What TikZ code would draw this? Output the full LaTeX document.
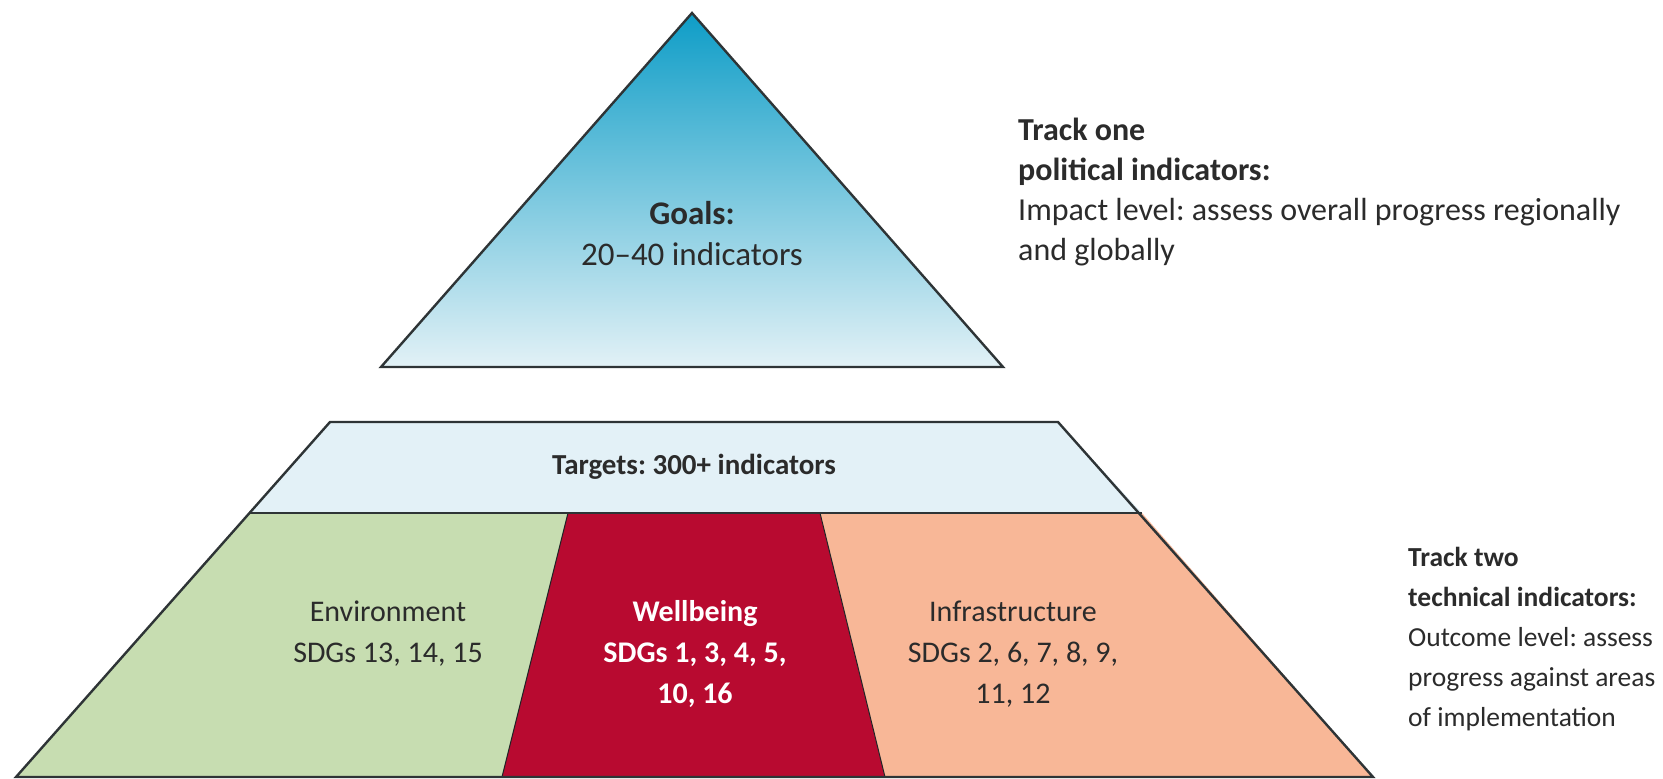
\documentclass[tikz,border=0pt]{standalone}
\usepackage{fontspec}
\setmainfont{Carlito}
\usepackage{tikz}

\definecolor{goaltop}{HTML}{0E9DC7}
\definecolor{goalbot}{HTML}{E2F1F6}
\definecolor{targetfill}{HTML}{E3F1F7}
\definecolor{envfill}{HTML}{C7DDB1}
\definecolor{wellfill}{HTML}{B80A30}
\definecolor{infrafill}{HTML}{F8B797}
\definecolor{edgegray}{HTML}{2E3436}
\definecolor{inkgray}{HTML}{2B2B2B}

\tikzset{
  outline/.style={draw=edgegray, line width=2.4pt, line join=miter},
  split/.style={draw=edgegray!70!black, line width=1pt},
  txt/.style={align=center, text=inkgray, font=\fontsize{30}{41}\selectfont, inner sep=0pt},
  side/.style={align=left, anchor=north west, text=inkgray, font=\fontsize{29}{40}\selectfont, inner sep=0pt}
}

\begin{document}
\frenchspacing
\begin{tikzpicture}[x=1pt, y=-1pt]
\useasboundingbox (0,0) rectangle (1663,779);
% goals triangle
\coordinate (apex) at (692,13);
\coordinate (gl) at (381,367);
\coordinate (gr) at (1003,367);
\shade[top color=goaltop, bottom color=goalbot] (apex) -- (gr) -- (gl) -- cycle;
\draw[outline] (apex) -- (gr) -- (gl) -- cycle;
% targets trapezoid
\coordinate (tl) at (330,422);
\coordinate (tr) at (1058,422);
\coordinate (ml) at (250,513);
\coordinate (mr) at (1142,513);
\coordinate (bl) at (16,777);
\coordinate (br) at (1373,777);
\coordinate (wtl) at (568,513);
\coordinate (wtr) at (820,513);
\coordinate (wbl) at (502,777);
\coordinate (wbr) at (885,777);
\fill[targetfill] (ml) -- (tl) -- (tr) -- (mr) -- cycle;
\fill[envfill] (ml) -- (wtl) -- (wbl) -- (bl) -- cycle;
\fill[wellfill] (wtl) -- (wtr) -- (wbr) -- (wbl) -- cycle;
\fill[infrafill] (wtr) -- (mr) -- (br) -- (wbr) -- cycle;
\draw[split] (wtl) -- (wbl);
\draw[split] (wtr) -- (wbr);
\draw[outline] (ml) -- (mr);
\draw[outline] (tl) -- (tr) -- (br) -- (bl) -- cycle;
% labels
\node[txt, font=\fontsize{33}{41}\selectfont] (goals) at (692,234) {\textbf{Goals:}\\20–40 indicators};
\node[txt, font=\fontsize{29}{41}\selectfont] (targets) at (694,467) {\textbf{Targets: 300+ indicators}};
\node[txt] (env) at (388,634) {Environment\\SDGs 13, 14, 15};
\node[txt, text=white] (well) at (695,654) {\textbf{Wellbeing}\\\textbf{SDGs 1, 3, 4, 5,}\\\textbf{10, 16}};
\node[txt] (infra) at (1013,654) {Infrastructure\\SDGs 2, 6, 7, 8, 9,\\11, 12};
\node[side, font=\fontsize{32}{40}\selectfont] (trackone) at (1018,118) {\textbf{Track one}\\\textbf{political indicators:}\\Impact level: assess overall progress regionally\\and globally};
\node[side, font=\fontsize{27.5}{40}\selectfont] (tracktwo) at (1408,547) {\textbf{Track two}\\\textbf{technical indicators:}\\Outcome level: assess\\progress against areas\\of implementation};
\end{tikzpicture}
\end{document}
